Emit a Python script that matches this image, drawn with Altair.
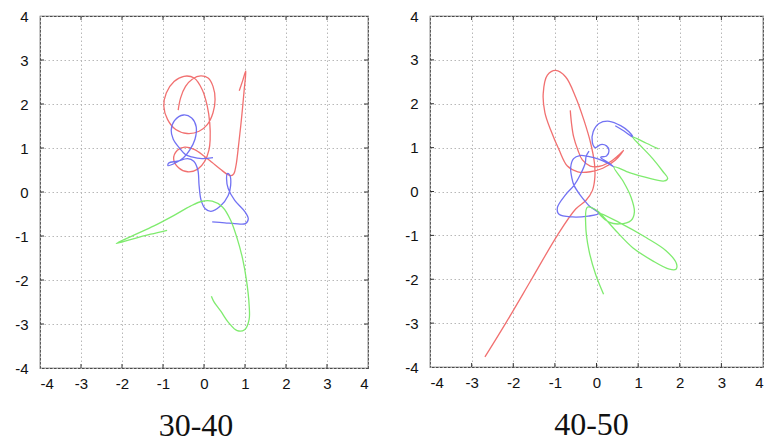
import altair as alt
import pandas as pd

# ---- trajectories, 30-40 window ----
red_a_x = [-0.63, -0.57, -0.45, -0.28, -0.08, 0.10, 0.22, 0.27, 0.22, 0.08, -0.12, -0.41, -0.69, -0.89,
           -0.98, -0.92, -0.73, -0.49, -0.24, -0.04, 0.08, 0.14, 0.15, 0.12, 0.02, -0.15, -0.40, -0.62,
           -0.74, -0.65, -0.47, -0.24, 0.00, 0.20, 0.41, 0.57, 0.66, 0.73, 0.78, 0.85, 0.92, 0.98, 1.02,
           0.94, 0.86]
red_a_y = [1.86, 2.14, 2.40, 2.57, 2.64, 2.59, 2.40, 2.10, 1.80, 1.53, 1.38, 1.33, 1.42, 1.65,
           1.95, 2.25, 2.51, 2.63, 2.59, 2.32, 1.95, 1.57, 1.19, 0.95, 0.70, 0.52, 0.46, 0.55,
           0.75, 0.95, 1.02, 0.97, 0.82, 0.67, 0.51, 0.40, 0.37, 0.42, 0.60, 1.12, 1.72, 2.32, 2.75,
           2.52, 2.30]

blue_a_x = [0.22, -0.05, -0.30, -0.45, -0.60, -0.75, -0.80, -0.72, -0.50, -0.30, -0.19, -0.22, -0.35,
            -0.50, -0.70, -0.88, -0.86, -0.65, -0.40, -0.25, -0.15, -0.12, -0.07, 0.03, 0.17, 0.40,
            0.59, 0.65, 0.63, 0.57, 0.55, 0.59, 0.75, 1.00, 1.08, 1.01, 0.75, 0.51, 0.20]
blue_a_y = [0.78, 0.76, 0.80, 0.85, 1.00, 1.20, 1.40, 1.62, 1.75, 1.68, 1.48, 1.20, 0.95,
            0.78, 0.66, 0.60, 0.66, 0.70, 0.76, 0.70, 0.50, 0.15, -0.19, -0.38, -0.44, -0.32,
            -0.08, 0.15, 0.38, 0.42, 0.30, 0.08, -0.19, -0.45, -0.61, -0.72, -0.72, -0.70, -0.68]

green_a_x = [-0.90, -1.30, -1.75, -2.14, -1.71, -1.22, -0.73, -0.33, -0.04, 0.20, 0.45, 0.65, 0.81,
             0.94, 1.04, 1.10, 1.10, 0.99, 0.81, 0.61, 0.41, 0.24, 0.18]
green_a_y = [-0.87, -0.96, -1.07, -1.17, -0.98, -0.77, -0.53, -0.32, -0.21, -0.21, -0.34, -0.64, -1.06,
             -1.51, -2.03, -2.56, -2.90, -3.13, -3.15, -2.98, -2.71, -2.49, -2.37]

# ---- trajectories, 40-50 window ----
red_b_x = [-0.63, -0.60, -0.55, -0.45, -0.34, -0.15, 0.05, 0.30, 0.52, 0.65, 0.45, 0.15, -0.15, -0.45,
           -0.70, -0.90, -1.10, -1.24, -1.28, -1.18, -0.98, -0.74, -0.50, -0.30, -0.14, -0.05, -0.04,
           -0.10, -0.25, -0.50, -0.94, -1.56, -2.18, -2.68]
red_b_y = [1.85, 1.55, 1.25, 0.95, 0.72, 0.58, 0.57, 0.66, 0.82, 0.94, 0.71, 0.53, 0.45, 0.45,
           0.58, 0.95, 1.40, 1.80, 2.23, 2.65, 2.76, 2.61, 2.15, 1.62, 1.10, 0.65, 0.32,
           0.02, -0.20, -0.40, -1.00, -2.00, -3.00, -3.77]

blue_b_x = [0.45, 0.66, 0.87, 0.78, 0.58, 0.31, 0.06, -0.08, -0.10, -0.03, 0.10, 0.24, 0.30, 0.24,
            0.10, 0.25, 0.42, 0.28, 0.05, -0.20, -0.40, -0.55, -0.62, -0.59, -0.54, -0.40, -0.24,
            -0.16, 0.06, -0.20, -0.58, -0.90, -0.94, -0.74, -0.54, -0.38, -0.27, -0.25, -0.18]
blue_b_y = [1.50, 1.38, 1.24, 1.36, 1.50, 1.60, 1.55, 1.36, 1.12, 1.00, 1.07, 1.04, 0.93, 0.81,
            0.78, 0.68, 0.56, 0.64, 0.74, 0.80, 0.82, 0.75, 0.55, 0.30, 0.14, -0.07, -0.26,
            -0.34, -0.50, -0.56, -0.58, -0.52, -0.37, -0.07, 0.14, 0.40, 0.65, 0.80, 0.92]

green_b_x = [1.49, 1.20, 0.87, 1.05, 1.35, 1.60, 1.71, 1.63, 1.19, 0.79, 0.42, 0.63, 0.83, 0.91, 0.83,
             0.55, 0.30, 0.10, 0.06, 0.55, 1.19, 1.67, 1.92, 1.91, 1.75, 1.35, 0.87, 0.47, 0.18, 0.02,
             -0.22, -0.26, -0.18, -0.02, 0.17]
green_b_y = [0.97, 1.10, 1.24, 1.05, 0.75, 0.45, 0.30, 0.24, 0.32, 0.43, 0.56, 0.25, -0.13, -0.47, -0.66,
             -0.74, -0.70, -0.55, -0.49, -0.71, -1.05, -1.35, -1.64, -1.77, -1.77, -1.58, -1.28, -0.90,
             -0.59, -0.44, -0.36, -0.75, -1.35, -1.89, -2.34]

tick_values = [-4, -3, -2, -1, 0, 1, 2, 3, 4]
inner_ticks = [-3, -2, -1, 0, 1, 2, 3]
series_names = ["red", "blue", "green"]
series_colors = ["#f06868", "#6a6af2", "#78ea66"]


def frame(curves):
    rows = []
    for name, xs, ys in curves:
        for i, (x, y) in enumerate(zip(xs, ys)):
            rows.append({"x": x, "y": y, "series": name, "i": i})
    return pd.DataFrame(rows)


def panel(df, title, w, h, title_dx):
    xs = alt.Scale(domain=[-4, 4], nice=False, zero=False)
    ys = alt.Scale(domain=[-4, 4], nice=False, zero=False)
    axis_common = dict(values=tick_values, grid=True, gridColor="#b8b8b8", gridDash=[1.5, 2.5],
                       gridWidth=1, domain=False, ticks=False, labelFont="Liberation Sans",
                       labelFontSize=15, labelColor="#111", labelPadding=8, title=None,
                       labelExpr="'' + datum.value")
    lines = alt.Chart(df).mark_line(strokeWidth=1.3, opacity=0.95, interpolate="catmull-rom").encode(
        x=alt.X("x:Q", scale=xs, axis=alt.Axis(**axis_common)),
        y=alt.Y("y:Q", scale=ys, axis=alt.Axis(**{**axis_common, "labelPadding": 12})),
        color=alt.Color("series:N", scale=alt.Scale(domain=series_names, range=series_colors), legend=None),
        order=alt.Order("i:Q"),
    )
    tdf = pd.DataFrame({"t": inner_ticks})
    tick_style = dict(color="#333", strokeWidth=1)
    bottom = alt.Chart(tdf).mark_rule(**tick_style).encode(
        x=alt.X("t:Q", scale=xs), y=alt.value(h), y2=alt.value(h - 4))
    top = alt.Chart(tdf).mark_rule(**tick_style).encode(
        x=alt.X("t:Q", scale=xs), y=alt.value(0), y2=alt.value(4))
    left = alt.Chart(tdf).mark_rule(**tick_style).encode(
        y=alt.Y("t:Q", scale=ys), x=alt.value(0), x2=alt.value(4))
    right = alt.Chart(tdf).mark_rule(**tick_style).encode(
        y=alt.Y("t:Q", scale=ys), x=alt.value(w), x2=alt.value(w - 4))
    return alt.layer(lines, bottom, top, left, right).properties(
        width=w, height=h,
        title=alt.TitleParams(title, orient="bottom", font="Liberation Serif", fontSize=32,
                              fontWeight="normal", color="#111", offset=20, anchor="middle",
                              dx=title_dx),
    )


df_a = frame([("red", red_a_x, red_a_y), ("blue", blue_a_x, blue_a_y), ("green", green_a_x, green_a_y)])
df_b = frame([("red", red_b_x, red_b_y), ("blue", blue_b_x, blue_b_y), ("green", green_b_x, green_b_y)])

chart = alt.hconcat(
    panel(df_a, "30-40", 328, 352, -8),
    panel(df_b, "40-50", 333, 351, -5),
    spacing=34,
).properties(
    padding={"left": 14, "top": 8, "right": 2, "bottom": 4},
    background="white",
).configure_view(stroke="#4a4a4a", strokeWidth=1.2)

chart.save("out.html", embed_options={"renderer": "svg", "actions": False})
